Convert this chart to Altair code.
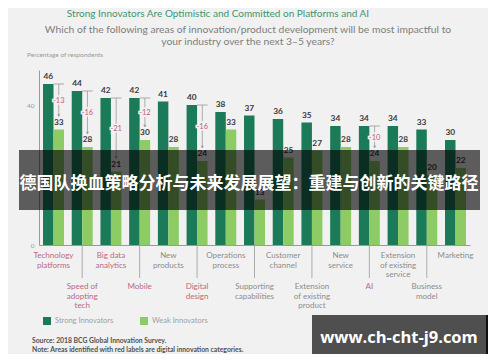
import altair as alt
import pandas as pd

categories = ["Technology platforms", "Speed of adopting tech", "Big data analytics", "Mobile",
              "New products", "Digital design", "Operations process", "Supporting capabilities",
              "Customer channel", "Extension of existing product", "New service", "AI",
              "Extension of existing service", "Business model", "Marketing"]
label_text = ["Technology\nplatforms", "Speed of\nadopting\ntech", "Big data\nanalytics", "Mobile",
              "New\nproducts", "Digital\ndesign", "Operations\nprocess", "Supporting\ncapabilities",
              "Customer\nchannel", "Extension\nof existing\nproduct", "New\nservice", "AI",
              "Extension\nof existing\nservice", "Business\nmodel", "Marketing"]
strong = [46, 44, 42, 42, 41, 40, 38, 37, 36, 35, 34, 34, 34, 33, 30]
weak = [33, 28, 21, 30, 28, 24, 33, 13, 25, 27, 28, 24, 28, 20, 22]
digital = [True, True, True, True, False, True, False, False, False, False, False, True, False, False, False]
series = ["Strong Innovators", "Weak Innovators"]
colors = ["#1b7a57", "#8dcb65"]

title_text = "Strong Innovators Are Optimistic and Committed on Platforms and AI"
subtitle_1 = "Which of the following areas of innovation/product development will be most impactful to"
subtitle_2 = "your industry over the next 3\u20135 years?"
ylabel_text = "Percentage of respondents"
source_text = "Source: 2018 BCG Global Innovation Survey."
note_text = "Note: Areas identified with red labels are digital innovation categories."
banner_text = "德国队换血策略分析与未来发展展望：重建与创新的关键路径"
watermark_text = "www.ch-cht-j9.com"

BG = "#f1f1f1"
FONT = "Lato"

rows = []
for c, s, w in zip(categories, strong, weak):
    rows.append({"category": c, "series": series[0], "value": s})
    rows.append({"category": c, "series": series[1], "value": w})
bars_df = pd.DataFrame(rows)

cat_df = pd.DataFrame({
    "category": categories, "label": label_text, "strong": strong, "weak": weak,
    "digital": digital, "row": [i % 2 for i in range(len(categories))],
})
cat_df["diff"] = ["-" + str(s - w) for s, w in zip(strong, weak)]
cat_df["mid"] = [(s + w) / 2 for s, w in zip(strong, weak)]
dig_df = cat_df[cat_df["digital"]]

xscale = alt.Scale(domain=categories, paddingInner=0.27, paddingOuter=0.14)
yscale = alt.Scale(domain=[0, 50], nice=False)
X = alt.X("category:N", scale=xscale, sort=categories,
          axis=alt.Axis(labels=False, ticks=False, title=None, domainColor="#9a9a9a", domainWidth=1))
Y = alt.Y("value:Q", scale=yscale,
          axis=alt.Axis(values=[0, 10, 20, 30, 40, 50], grid=False, ticks=False, title=None,
                        labelFontSize=6.5, labelColor="#9a9a9a", labelFont=FONT, labelPadding=5,
                        domainColor="#9a9a9a", domainWidth=1))

bars = alt.Chart(bars_df).mark_bar().encode(
    x=X, y=Y,
    xOffset=alt.XOffset("series:N", sort=series),
    color=alt.Color("series:N", sort=series, scale=alt.Scale(domain=series, range=colors),
                    legend=alt.Legend(orient="none", legendX=4, legendY=247, direction="horizontal",
                                      title=None, symbolType="square", symbolSize=64,
                                      symbolStrokeWidth=0, labelFontSize=7.5, labelColor="#a0a0a0",
                                      labelFont=FONT, columnPadding=26, labelOffset=4)),
)

base = alt.Chart(cat_df)
lab_strong = base.mark_text(dx=-5.24, dy=-3, baseline="bottom", fontSize=8.3, fontWeight="bold",
                            color="#3a3a3a", font=FONT).encode(
    x=alt.X("category:N", sort=categories), y=alt.Y("strong:Q"), text="strong:Q")
lab_weak = base.mark_text(dx=5.24, dy=-3, baseline="bottom", fontSize=8.3, fontWeight="bold",
                          color="#3a3a3a", font=FONT).encode(
    x=alt.X("category:N", sort=categories), y=alt.Y("weak:Q"), text="weak:Q")

dbase = alt.Chart(dig_df)
tick_top = dbase.mark_rule(color="#9a9a9a", strokeWidth=0.8, xOffset=0, x2Offset=10.5).encode(
    x=alt.X("category:N", sort=categories), x2="category:N", y="strong:Q")
vline = dbase.mark_rule(color="#9a9a9a", strokeWidth=0.8, xOffset=5.24, y2Offset=-13).encode(
    x=alt.X("category:N", sort=categories), y="strong:Q", y2="weak:Q")
arrow = dbase.mark_point(shape="triangle-down", filled=True, size=10, color="#9a9a9a",
                         opacity=1, xOffset=5.24, yOffset=-14).encode(
    x=alt.X("category:N", sort=categories), y="weak:Q")
diff_bg = dbase.mark_text(dx=5.24, dy=-6, fontSize=7.5, color=BG, stroke=BG, strokeWidth=3,
                          font=FONT).encode(
    x=alt.X("category:N", sort=categories), y="mid:Q", text="diff:N")
diff_txt = dbase.mark_text(dx=5.24, dy=-6, fontSize=7.5, color="#c4587a", font=FONT).encode(
    x=alt.X("category:N", sort=categories), y="mid:Q", text="diff:N")

lab_color = alt.condition("datum.digital", alt.value("#b8697f"), alt.value("#8c8c8c"))
cat_up = base.transform_filter("datum.row == 0").mark_text(
    baseline="top", fontSize=8, lineBreak="\n", lineHeight=9.5, font=FONT).encode(
    x=alt.X("category:N", sort=categories), y=alt.value(182), text="label:N", color=lab_color)
cat_low_rule = base.transform_filter("datum.row == 1").mark_rule(color="#9a9a9a", strokeWidth=0.8).encode(
    x=alt.X("category:N", sort=categories), y=alt.value(176), y2=alt.value(208))
cat_low = base.transform_filter("datum.row == 1").mark_text(
    baseline="top", fontSize=8, lineBreak="\n", lineHeight=9.5, font=FONT).encode(
    x=alt.X("category:N", sort=categories), y=alt.value(213), text="label:N", color=lab_color)

one = pd.DataFrame({"t": [title_text], "s1": [subtitle_1], "s2": [subtitle_2], "yl": [ylabel_text],
                    "src": [source_text], "note": [note_text], "ban": [banner_text],
                    "wm": [watermark_text]})
tb = alt.Chart(one)
title = tb.mark_text(fontSize=10, color="#3f9470", font=FONT, baseline="top").encode(
    x=alt.value(179), y=alt.value(-61), text="t:N")
sub1 = tb.mark_text(fontSize=10.3, color="#7d7d7d", font=FONT).encode(
    x=alt.value(209), y=alt.value(-40), text="s1:N")
sub2 = tb.mark_text(fontSize=10.3, color="#7d7d7d", font=FONT).encode(
    x=alt.value(209), y=alt.value(-28), text="s2:N")
ylab = tb.mark_text(fontSize=6.5, color="#9a9a9a", align="left", font=FONT).encode(
    x=alt.value(-12), y=alt.value(-15), text="yl:N")
src = tb.mark_text(fontSize=6.8, color="#505050", align="left", fontWeight="bold", font=FONT).encode(
    x=alt.value(-7), y=alt.value(271), text="src:N")
note = tb.mark_text(fontSize=6.8, color="#505050", align="left", fontWeight="bold", font=FONT).encode(
    x=alt.value(-7), y=alt.value(280), text="note:N")

banner = tb.mark_rect(color="black", opacity=0.62).encode(
    x=alt.value(-20), x2=alt.value(441), y=alt.value(80), y2=alt.value(140))
banner_t = tb.mark_text(fontSize=17, fontWeight="bold", color="white", font="Noto Sans CJK SC").encode(
    x=alt.value(210), y=alt.value(114), text="ban:N")
wm_rect = tb.mark_rect(color="#4f4f4f").encode(
    x=alt.value(273), x2=alt.value(449), y=alt.value(245), y2=alt.value(290))
wm_edge = tb.mark_rect(color="#111111").encode(
    x=alt.value(447), x2=alt.value(450), y=alt.value(245), y2=alt.value(290))
wm_text = tb.mark_text(fontSize=16.5, fontWeight="bold", color="white", font="Open Sans").encode(
    x=alt.value(360), y=alt.value(268), text="wm:N")

chart = alt.layer(
    bars, lab_strong, lab_weak, tick_top, vline, arrow, diff_bg, diff_txt,
    cat_up, cat_low_rule, cat_low, title, sub1, sub2, ylab, src, note,
    banner, banner_t, wm_rect, wm_edge, wm_text,
).properties(
    width=431, height=175,
    padding={"left": 31, "top": 62, "right": 18, "bottom": 109},
    autosize=alt.AutoSizeParams(type="none"),
    background=BG,
).configure_view(stroke=None)

chart.save("out.html", embed_options={"renderer": "svg", "actions": False})
